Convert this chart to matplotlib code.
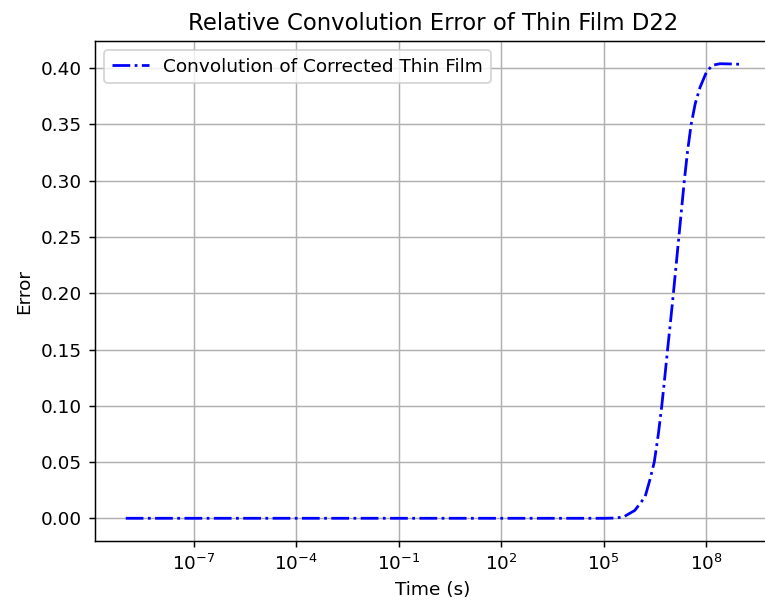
import numpy as np
import matplotlib
matplotlib.use("Agg")
import matplotlib.pyplot as plt
from matplotlib.ticker import LogLocator, NullLocator

log_time = [-9.0, -6.0, -3.0, 0.0, 3.0, 5.0, 5.3, 5.57, 5.91, 6.21, 6.35, 6.48, 6.60, 6.70,
            6.79, 6.87, 6.96, 7.04, 7.12, 7.20, 7.28, 7.36, 7.45, 7.56, 7.68, 7.82,
            8.0, 8.17, 8.4, 8.7, 9.0]
error = [0.0, 0.0, 0.0, 0.0, 0.0, 0.0, 0.0002, 0.001, 0.007, 0.019, 0.034, 0.050, 0.075, 0.100,
         0.126, 0.150, 0.176, 0.200, 0.225, 0.250, 0.275, 0.300, 0.325, 0.350, 0.3686, 0.383,
         0.396, 0.4025, 0.4040, 0.4038, 0.4035]

time = np.power(10.0, log_time)

DPI = 133
fig = plt.figure(figsize=(765 / DPI, 610 / DPI), dpi=DPI)
ax = fig.add_axes([0.1242, 0.1131, 0.8837, 0.8197])
ax.plot(time, error, color="blue", linestyle="-.", linewidth=1.5,
        label="Convolution of Corrected Thin Film")
ax.set_xscale("log")
ax.xaxis.set_major_locator(LogLocator(base=10, numticks=8))
ax.xaxis.set_minor_locator(NullLocator())
ax.spines["right"].set_visible(False)
ax.set_xlabel("Time (s)")
ax.set_ylabel("Error")
ax.set_title("Relative Convolution Error of Thin Film D22", fontsize=12.3)
ax.grid(True)
ax.legend(loc="upper left")
fig.savefig("out.png", dpi=DPI)
